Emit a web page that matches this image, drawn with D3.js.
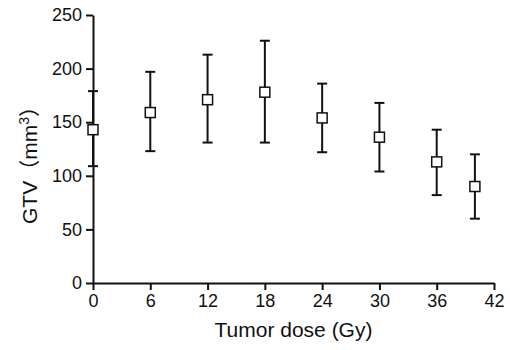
<!DOCTYPE html>
<html>
<head>
<meta charset="utf-8">
<script src="https://cdn.jsdelivr.net/npm/d3@7"></script>
<style>
  body { margin: 0; background: #fff; }
  svg text { font-family: Arial, "Liberation Sans", "Noto Sans CJK SC", sans-serif; }
  .tick text { font-size: 18px !important; }
</style>
</head>
<body>
<div id="chart"></div>
<script>
// dose (Gy), mean GTV and error bar limits (mm3)
var doses = [0, 6, 12, 18, 24, 30, 36, 40];
var means = [143, 159, 171, 178, 154, 136, 113, 90];
var upper = [179, 197, 213, 226, 186, 168, 143, 120];
var lower = [109, 123, 131, 131, 122, 104, 82, 60];
var xTicks = [0, 6, 12, 18, 24, 30, 36, 42];
var yTicks = [0, 50, 100, 150, 200, 250];

var W = 510, H = 350;
var margin = {top: 15, right: 16, bottom: 67, left: 93};

var svg = d3.select("#chart").append("svg")
    .attr("width", W).attr("height", H);

var g = svg.append("g")
    .attr("transform", `translate(${margin.left},${margin.top})`);

var w = W - margin.left - margin.right;
var h = H - margin.top - margin.bottom;

var x = d3.scaleLinear().domain([0, 42]).range([0, w]);
var y = d3.scaleLinear().domain([0, 250]).range([h, 0]);

var xAxis = g.append("g")
    .attr("transform", `translate(0,${h})`)
    .call(d3.axisBottom(x).tickValues(xTicks).tickSize(7).tickPadding(4).tickSizeOuter(0));
var yAxis = g.append("g")
    .call(d3.axisLeft(y).tickValues(yTicks).tickSize(7).tickPadding(4).tickSizeOuter(0));

[xAxis, yAxis].forEach(function(a) {
    a.attr("font-family", null).attr("font-size", null);
    a.select(".domain").attr("stroke", "#111").attr("stroke-width", 2);
    a.selectAll(".tick line").attr("stroke", "#111").attr("stroke-width", 2);
    a.selectAll(".tick text").attr("fill", "#111");
});

// error bars
var bars = g.selectAll(".err").data(doses).enter().append("g").attr("class", "err");
bars.append("line")
    .attr("x1", function(d) { return x(d); }).attr("x2", function(d) { return x(d); })
    .attr("y1", function(d, i) { return y(upper[i]); })
    .attr("y2", function(d, i) { return y(lower[i]); })
    .attr("stroke", "#111").attr("stroke-width", 2);
bars.append("line")
    .attr("x1", function(d) { return x(d) - 5; }).attr("x2", function(d) { return x(d) + 5; })
    .attr("y1", function(d, i) { return y(upper[i]); })
    .attr("y2", function(d, i) { return y(upper[i]); })
    .attr("stroke", "#111").attr("stroke-width", 2);
bars.append("line")
    .attr("x1", function(d) { return x(d) - 5; }).attr("x2", function(d) { return x(d) + 5; })
    .attr("y1", function(d, i) { return y(lower[i]); })
    .attr("y2", function(d, i) { return y(lower[i]); })
    .attr("stroke", "#111").attr("stroke-width", 2);

// square markers
g.selectAll(".pt").data(doses).enter().append("rect")
    .attr("class", "pt")
    .attr("x", function(d) { return x(d) - 5; })
    .attr("y", function(d, i) { return y(means[i]) - 5; })
    .attr("width", 10).attr("height", 10)
    .attr("fill", "#fff").attr("stroke", "#111").attr("stroke-width", 1.5);

// axis titles
svg.append("text")
    .attr("x", margin.left + x(21)).attr("y", 337)
    .attr("text-anchor", "middle")
    .attr("font-size", 21).attr("fill", "#111")
    .text("Tumor dose (Gy)");

var yt = svg.append("text")
    .attr("transform", "translate(37,160) rotate(-90)")
    .attr("text-anchor", "middle")
    .attr("font-size", 21).attr("fill", "#111");
yt.append("tspan").text("GTV（mm");
yt.append("tspan").attr("dy", -8).attr("font-size", 14).text("3");
yt.append("tspan").attr("dy", 8).text("）");
</script>
</body>
</html>
